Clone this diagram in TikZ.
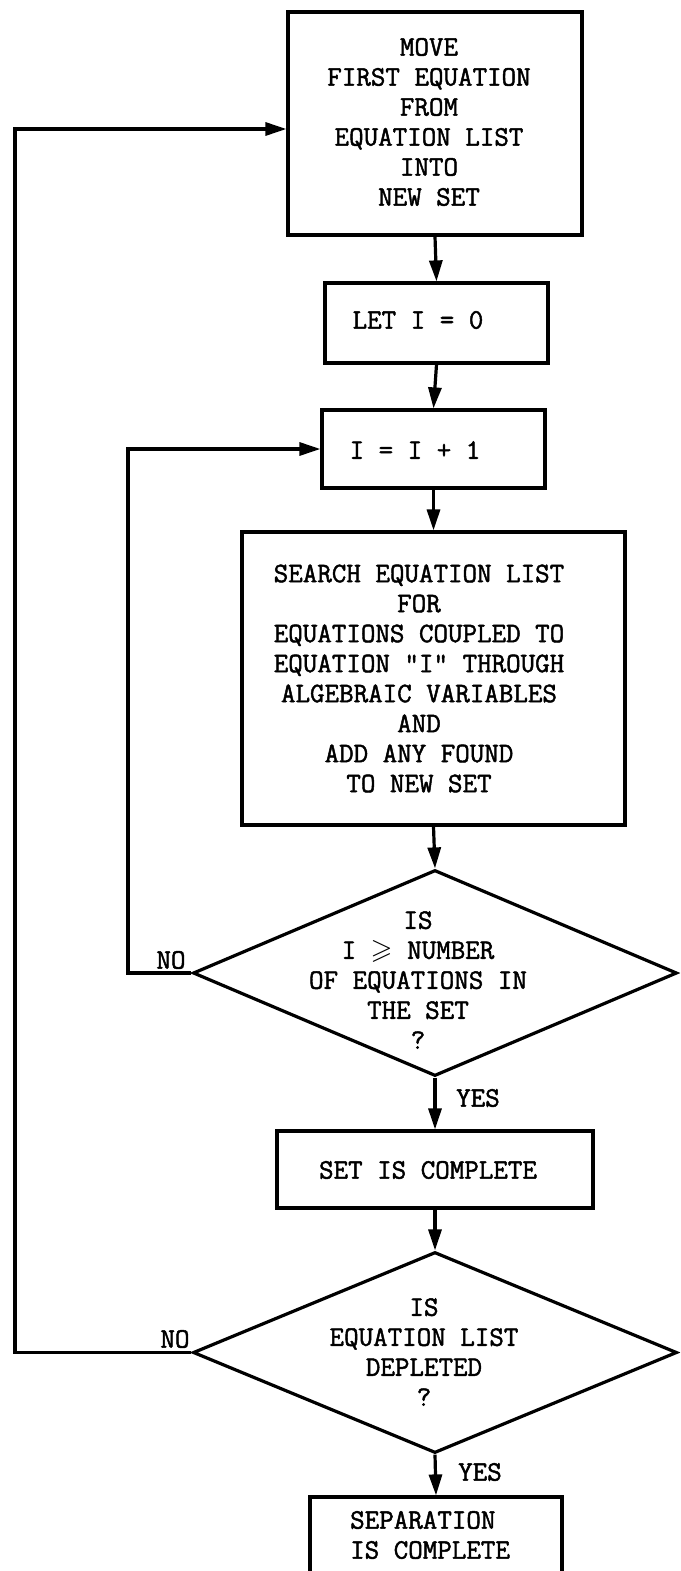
\documentclass[tikz,border=0pt]{standalone}
\usepackage{amssymb}
\usepackage{fontspec}
\newfontfamily\typer[FakeBold=1.6]{Latin Modern Mono}
\usetikzlibrary{shapes.geometric,arrows.meta}
\begin{document}
\begin{tikzpicture}[x=1pt,y=-1pt,
  every node/.style={font=\typer\fontsize{28.2}{30}\selectfont},
  flow/.style={line width=3.2pt, -{Triangle[length=21pt,width=13pt]}},
  box/.style={draw, line width=3.2pt, rectangle, inner sep=0pt},
  decision/.style={draw, line width=3.2pt, diamond, inner sep=0pt,
                   minimum width=484pt, minimum height=206pt},
  txt/.style={align=center, inner sep=0pt},
  tag/.style={inner sep=0pt}]
\useasboundingbox (0,0) rectangle (680,1571);
\clip (0,0) rectangle (680,1571);

% process boxes
\node[box, minimum width=294pt, minimum height=223pt] (move) at (435,123.5) {};
\node[txt] (movet) at (429,122) {MOVE\\FIRST EQUATION\\FROM\\EQUATION LIST\\INTO\\NEW SET};

\node[box, minimum width=223pt, minimum height=80pt] (let) at (436.5,323) {};
\node[txt] (lett) at (418,320) {LET I = 0};

\node[box, minimum width=223pt, minimum height=78pt] (inc) at (433.5,449) {};
\node[txt] (inct) at (415,450) {I = I + 1};

\node[box, minimum width=383pt, minimum height=293pt] (search) at (433.5,678.5) {};
\node[txt] (searcht) at (419,678.5) {SEARCH EQUATION LIST\\FOR\\EQUATIONS COUPLED TO\\EQUATION "I" THROUGH\\ALGEBRAIC VARIABLES\\AND\\ADD ANY FOUND\\TO NEW SET};

% first test
\node[decision] (d1) at (435,973) {};
\node[txt] (d1t) at (418,980) {IS\\I {\boldmath$\geqslant$} NUMBER\\OF EQUATIONS IN\\THE SET\\?};

\node[box, minimum width=316pt, minimum height=77pt] (setc) at (435,1169.5) {};
\node[txt] (setct) at (428,1170) {SET IS COMPLETE};

% second test
\node[decision, minimum height=201pt] (d2) at (435,1352.5) {};
\node[txt] (d2t) at (424,1352) {IS\\EQUATION LIST\\DEPLETED\\?};

\node[box, minimum width=252pt, minimum height=103pt] (done) at (436,1548.5) {};
\node[txt, align=left, anchor=west] (donet) at (350,1535) {SEPARATION\\IS COMPLETE};

% main flow
\draw[flow] (move.south) -- (let.north);
\draw[flow] (let.south) -- (inc.north);
\draw[flow] (inc.south) -- (search.north);
\draw[flow] (search.south) -- (d1.north);
\draw[flow] (d1.south) -- (setc.north);
\draw[flow] (setc.south) -- (d2.north);
\draw[flow] (d2.south) -- (done.north);

% loops back
\coordinate (c1) at (128,973);
\coordinate (c2) at (15,1352.5);
\draw[flow] (d1.west) -- (c1) |- (inc.west);
\draw[flow] (d2.west) -- (c2) |- ([yshift=-5.5pt]move.west);

% branch labels
\node[tag] (no1) at (171,960) {NO};
\node[tag] (no2) at (175,1339) {NO};
\node[tag] (yes1) at (478,1098) {YES};
\node[tag] (yes2) at (480,1472) {YES};
\end{tikzpicture}
\end{document}
